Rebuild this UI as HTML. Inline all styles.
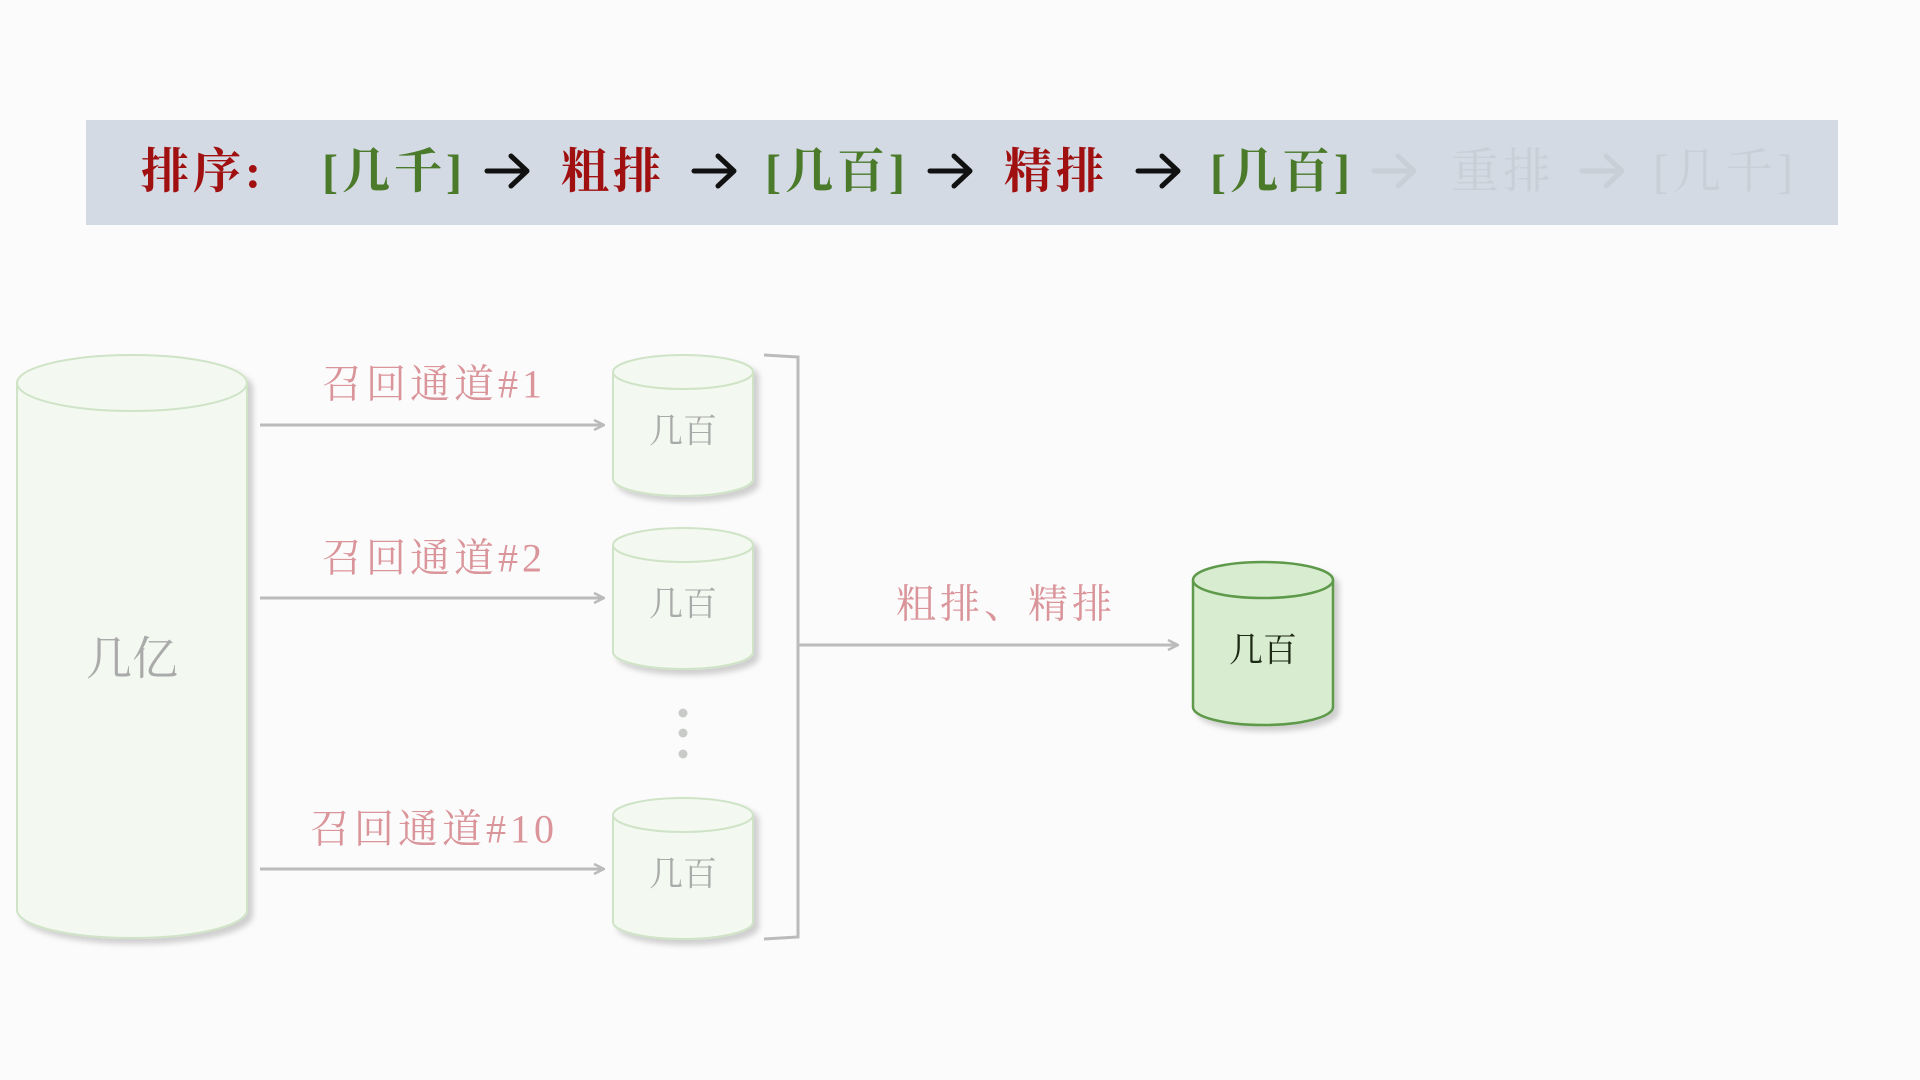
<!DOCTYPE html>
<html><head><meta charset="utf-8"><style>
html,body{margin:0;padding:0;background:#fcfbfc;}
svg{display:block}
text{font-family:"Liberation Serif","Noto Serif CJK SC",serif;}
</style></head><body>
<svg width="1920" height="1080" viewBox="0 0 1920 1080" xmlns="http://www.w3.org/2000/svg">
<defs>
<filter id="sh" x="-20%" y="-20%" width="150%" height="150%"><feDropShadow dx="5" dy="5" stdDeviation="3" flood-color="#000" flood-opacity="0.18"/></filter>
<marker id="ah" markerWidth="12" markerHeight="12" refX="10" refY="6" orient="auto" markerUnits="userSpaceOnUse"><path d="M1,1 L11,6 L1,11" fill="none" stroke="#bbb" stroke-width="2.5"/></marker>
<g id="barr"><path d="M0,0 L40,0 M24,-15 L40,0 L24,15" fill="none" stroke-width="5" stroke-linecap="round" stroke-linejoin="round"/></g>
</defs>
<rect width="1920" height="1080" fill="#fcfbfc"/>
<rect x="86" y="120" width="1752" height="105" fill="#d3dae3"/>
<g font-size="48" font-weight="bold" dominant-baseline="central" letter-spacing="4">
<text x="141" y="172" fill="#a01010">排序:</text>
<text x="322" y="172" fill="#4a7a2a">[几千]</text>
<text x="561" y="172" fill="#a01010">粗排</text>
<text x="765" y="172" fill="#4a7a2a">[几百]</text>
<text x="1004" y="172" fill="#a01010">精排</text>
<text x="1210" y="172" fill="#4a7a2a">[几百]</text>
<g fill="#c9cfd7" font-weight="normal">
<text x="1451" y="172">重排</text>
<text x="1653" y="172">[几千]</text>
</g>
</g>
<g stroke="#111">
<use href="#barr" x="487" y="171"/><use href="#barr" x="694" y="171"/><use href="#barr" x="930" y="171"/><use href="#barr" x="1138" y="171"/>
</g>
<g stroke="#c9cfd7">
<use href="#barr" x="1374" y="171"/><use href="#barr" x="1582" y="171"/>
</g>
<!-- big cylinder -->
<g filter="url(#sh)" fill="#f3f8f0" stroke="#cfe3c6" stroke-width="2">
<path d="M17,383 L17,910 A115,28 0 0 0 247,910 L247,383"/>
<ellipse cx="132" cy="383" rx="115" ry="28"/>
</g>
<text x="132" y="659" font-size="46" fill="#a9aaa9" text-anchor="middle" dominant-baseline="central">几亿</text>
<!-- small cylinders -->
<g fill="#f3f8f0" stroke="#cfe3c6" stroke-width="2" filter="url(#sh)">
<path d="M613,372 L613,479 A70,17 0 0 0 753,479 L753,372"/><ellipse cx="683" cy="372" rx="70" ry="17"/>
<path d="M613,545 L613,652 A70,17 0 0 0 753,652 L753,545"/><ellipse cx="683" cy="545" rx="70" ry="17"/>
<path d="M613,815 L613,922 A70,17 0 0 0 753,922 L753,815"/><ellipse cx="683" cy="815" rx="70" ry="17"/>
</g>
<g font-size="34" fill="#a9aaa9" text-anchor="middle" dominant-baseline="central">
<text x="683" y="432">几百</text><text x="683" y="605">几百</text><text x="683" y="875">几百</text>
</g>
<g fill="#c9cbc9"><circle cx="683" cy="713" r="4.5"/><circle cx="683" cy="733" r="4.5"/><circle cx="683" cy="754" r="4.5"/></g>
<!-- arrows -->
<g stroke="#bbb" stroke-width="3" marker-end="url(#ah)">
<line x1="260" y1="425" x2="603" y2="425"/>
<line x1="260" y1="598" x2="603" y2="598"/>
<line x1="260" y1="869" x2="603" y2="869"/>
<line x1="798" y1="645" x2="1177" y2="645"/>
</g>
<g font-size="40" fill="#d9959a" text-anchor="middle" dominant-baseline="central" letter-spacing="4">
<text x="434" y="384">召回通道#1</text>
<text x="434" y="558">召回通道#2</text>
<text x="434" y="829">召回通道#10</text>
<text x="1006" y="604">粗排、精排</text>
</g>
<!-- bracket -->
<path d="M764,355 L798,357 L798,937 L764,939 M798,645 L808,645" fill="none" stroke="#bbb" stroke-width="3"/>
<!-- final cylinder -->
<g filter="url(#sh)" fill="#d8ecd0" stroke="#5e9a4c" stroke-width="2.5">
<path d="M1193,580 L1193,707 A70,18 0 0 0 1333,707 L1333,580"/>
<ellipse cx="1263" cy="580" rx="70" ry="18"/>
</g>
<text x="1263" y="651" font-size="34" fill="#1d2a15" text-anchor="middle" dominant-baseline="central">几百</text>
</svg>
</body></html>
